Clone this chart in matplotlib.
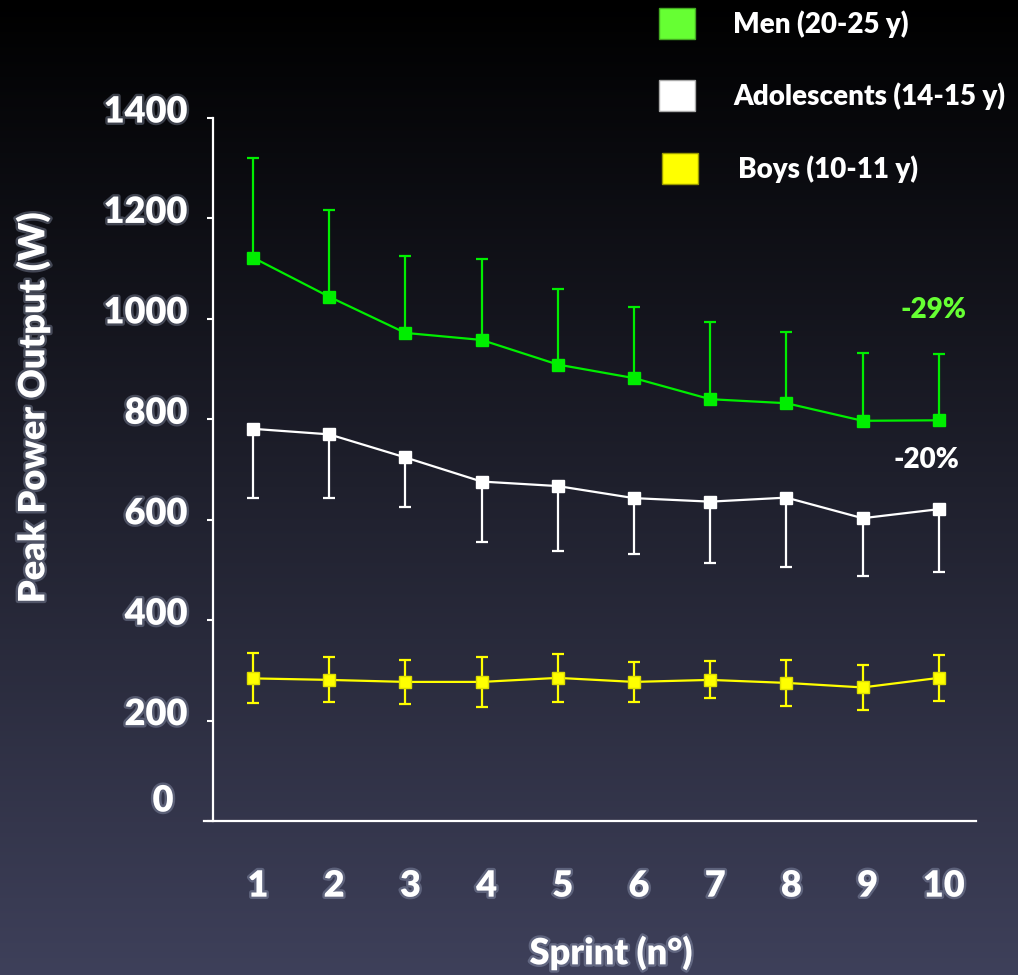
import numpy as np
import matplotlib
matplotlib.use("Agg")
import matplotlib.pyplot as plt
import matplotlib.patheffects as pe
from matplotlib.patches import Rectangle
from matplotlib.transforms import ScaledTranslation

# values
sprints = [1, 2, 3, 4, 5, 6, 7, 8, 9, 10]
men_mean = [1122, 1044, 972, 958, 909, 882, 840, 832, 797, 798]
men_sd = [198, 172, 153, 161, 150, 142, 154, 141, 135, 132]
ado_mean = [781, 770, 724, 676, 667, 643, 636, 644, 603, 621]
ado_sd = [137, 127, 99, 121, 129, 111, 123, 138, 115, 126]
boys_mean = [284, 281, 277, 277, 285, 277, 281, 275, 266, 285]
boys_sd = [50, 45, 44, 50, 48, 40, 37, 46, 44, 46]

group_labels = ["Men (20-25 y)", "Adolescents (14-15 y)", "Boys (10-11 y)"]
legend_colors = ["#66ff33", "#ffffff", "#ffff00"]
legend_edges = ["#44aa22", "#aaaaaa", "#999900"]
y_ticks = [0, 200, 400, 600, 800, 1000, 1200, 1400]

W, H = 1018, 975
plt.rcParams["font.family"] = ["Lato", "DejaVu Sans"]
plt.rcParams["font.weight"] = "heavy"

glow = [pe.withStroke(linewidth=3.5, foreground="#b8c4e0", alpha=0.3)]


def fx(x):
    return x / W


def fy(y):
    return 1 - y / H


fig = plt.figure(figsize=(W / 100, H / 100), dpi=100)

# background gradient, black at top to slate blue at bottom
bg = fig.add_axes([0, 0, 1, 1])
t = np.linspace(0, 1, 400)[:, None, None]
bottom_col = np.array([62, 64, 90]) / 255.0
grad = np.clip(t * bottom_col[None, None, :], 0, 1) * np.ones((1, 2, 1))
bg.imshow(grad, aspect="auto", extent=[0, 1, 0, 1], origin="upper")
bg.axis("off")

ax = fig.add_axes([fx(204), fy(821), fx(976) - fx(204), fy(118) - fy(821)])
ax.set_facecolor("none")

zeros = [0] * len(sprints)
common = dict(fmt="-s", lw=1.6, ms=8.5, capsize=4.5, capthick=1.6, elinewidth=1.6)
ax.errorbar(sprints, men_mean, yerr=[zeros, men_sd], color="#00ee00", **common)
ax.errorbar(sprints, ado_mean, yerr=[ado_sd, zeros], color="#ffffff", **common)
ax.errorbar(sprints, boys_mean, yerr=boys_sd, color="#ffff00", mec="#dddd00", **common)

ax.set_xlim(0.357, 10.488)
ax.set_ylim(0, 1400)
ax.spines["left"].set_position(("data", 0.475))
for side in ["top", "right"]:
    ax.spines[side].set_visible(False)
for side in ["left", "bottom"]:
    ax.spines[side].set_color("white")
    ax.spines[side].set_linewidth(1.6)

ax.set_xticks(sprints)
ax.set_yticks(y_ticks)
ax.tick_params(axis="x", length=0, pad=35, labelsize=26, colors="white")
ax.tick_params(axis="y", direction="out", length=4.3, width=1.5, pad=14,
               labelsize=26, colors="white")

for lab in ax.get_xticklabels():
    lab.set_transform(lab.get_transform() + ScaledTranslation(0.05, 0, fig.dpi_scale_trans))
    lab.set_path_effects(glow)
for lab in ax.get_yticklabels():
    lab.set_transform(lab.get_transform() + ScaledTranslation(0, 0.09, fig.dpi_scale_trans))
    lab.set_path_effects(glow)
zero_lab = ax.get_yticklabels()[0]
zero_lab.set_transform(zero_lab.get_transform() + ScaledTranslation(-0.14, 0.14, fig.dpi_scale_trans))

# axis titles
fig.text(fx(611), fy(953), "Sprint (n°)", ha="center", va="center", fontsize=26,
         color="white", path_effects=glow)
fig.text(fx(33), fy(408), "Peak Power Output (W)", ha="center", va="center",
         rotation=90, fontsize=26, color="white", path_effects=glow)

# percentage drop notes
fig.text(fx(933), fy(310), "-29%", ha="center", va="center", fontsize=20,
         color="#66ff33")
fig.text(fx(926), fy(460), "-20%", ha="center", va="center", fontsize=20,
         color="white")

# hand-built legend at top right
leg_rows = [(659, 8, 733), (659, 80, 733), (662, 153, 738)]
for (sx, sy, tx), label, fc, ec in zip(leg_rows, group_labels, legend_colors, legend_edges):
    fig.patches.append(Rectangle((fx(sx), fy(sy + 31)), fx(36), 31 / H,
                                 transform=fig.transFigure, facecolor=fc,
                                 edgecolor=ec, lw=1))
    fig.text(fx(tx), fy(sy + 16), label, ha="left", va="center", fontsize=20,
             color="white")

plt.savefig("out.png", dpi=100)
plt.close()
